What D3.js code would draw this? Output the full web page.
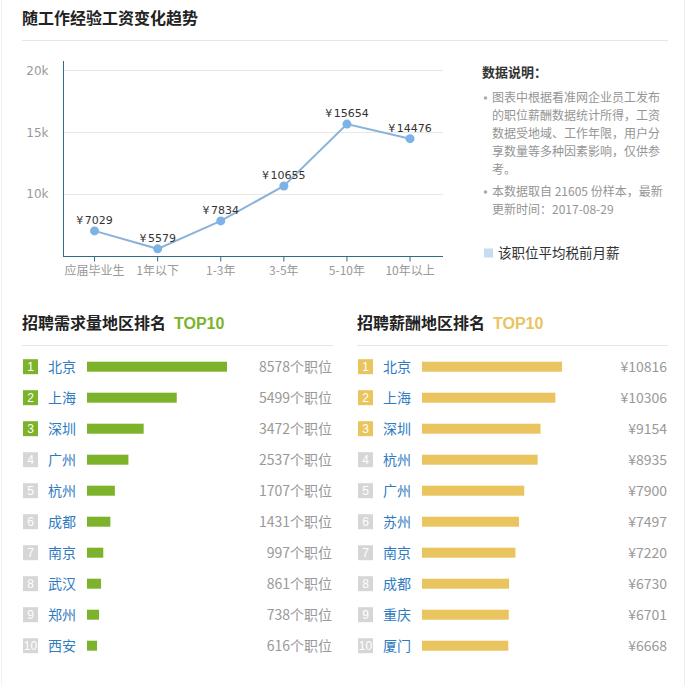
<!DOCTYPE html>
<html>
<head>
<meta charset="utf-8">
<script src="https://cdn.jsdelivr.net/npm/d3@7"></script>
<style>
html,body{margin:0;padding:0;background:#fff;}
svg{display:block;font-family:"Liberation Sans","Noto Sans CJK SC",sans-serif;}
</style>
</head>
<body>
<svg id="chart" width="690" height="685"></svg>
<script>
// ---- data ----
const expCategories = ["应届毕业生","1年以下","1-3年","3-5年","5-10年","10年以上"];
const expSalary = [7029, 5579, 7834, 10655, 15654, 14476];
const yTicks = [10000, 15000, 20000];
const yTickLabels = ["10k","15k","20k"];

const demandCities = ["北京","上海","深圳","广州","杭州","成都","南京","武汉","郑州","西安"];
const demandValues = [8578, 5499, 3472, 2537, 1707, 1431, 997, 861, 738, 616];

const payCities = ["北京","上海","深圳","杭州","广州","苏州","南京","成都","重庆","厦门"];
const payValues = [10816, 10306, 9154, 8935, 7900, 7497, 7220, 6730, 6701, 6668];

const noteTitle = "数据说明：";
const noteLines1 = ["图表中根据看准网企业员工发布","的职位薪酬数据统计所得，工资","数据受地域、工作年限，用户分","享数量等多种因素影响，仅供参","考。"];
const noteLines2 = ["本数据取自 21605 份样本，最新","更新时间：2017-08-29"];
const legendLabel = "该职位平均税前月薪";

const svg = d3.select("#chart");
const CJK = '"Noto Sans CJK SC","Liberation Sans",sans-serif';

// page borders
svg.append("line").attr("x1",1.5).attr("x2",1.5).attr("y1",0).attr("y2",685).attr("stroke","#f0f0f0");
svg.append("line").attr("x1",684.5).attr("x2",684.5).attr("y1",0).attr("y2",685).attr("stroke","#ececec");

// ---- main title ----
svg.append("text").attr("x",22).attr("y",24).attr("font-size",16).attr("font-weight","bold")
  .attr("font-family",CJK).attr("fill","#222").text("随工作经验工资变化趋势");
svg.append("line").attr("x1",22).attr("x2",668).attr("y1",40.5).attr("y2",40.5).attr("stroke","#e6e6e6");

// ---- line chart ----
const x = d3.scaleBand().domain(expCategories).range([63, 441.6]);
const y = d3.scaleLinear().domain([5000, 20750]).range([256, 61]);
const g = svg.append("g");

// grid
g.selectAll(".grid").data(yTicks).join("line")
  .attr("x1",63).attr("x2",443).attr("y1",d=>Math.round(y(d))+0.5).attr("y2",d=>Math.round(y(d))+0.5)
  .attr("stroke","#e8e8e8");

// y axis
const yAxis = g.append("g").attr("transform","translate(63.5,0)")
  .call(d3.axisLeft(y).tickValues(yTicks).tickSize(0).tickPadding(15).tickFormat((d,i)=>yTickLabels[i]));
yAxis.select(".domain").attr("stroke","#2e6d84").attr("d","M0,61V256");
yAxis.selectAll("text").attr("font-family","DejaVu Sans, sans-serif").attr("font-size",12).attr("fill","#999");

// x axis
const xAxis = g.append("g").attr("transform","translate(0,256.5)")
  .call(d3.axisBottom(x).tickSize(5).tickPadding(5));
xAxis.select(".domain").attr("stroke","#2e6d84").attr("d","M63,0H443");
xAxis.selectAll(".tick line").attr("stroke","#2e6d84");
xAxis.selectAll("text").attr("font-family",CJK).attr("font-size",12).attr("fill","#999");

const cx = d => x(d) + x.bandwidth()/2;
const pts = expCategories.map((c,i)=>({c, v: expSalary[i]}));
g.append("path").datum(pts)
  .attr("d", d3.line().x(d=>cx(d.c)).y(d=>y(d.v)))
  .attr("fill","none").attr("stroke","#8ab3da").attr("stroke-width",2);
g.selectAll(".pt").data(pts).join("circle")
  .attr("cx",d=>cx(d.c)).attr("cy",d=>y(d.v)).attr("r",4.5).attr("fill","#7db2e6");
const lbl = g.selectAll(".lbl").data(pts).join("text")
  .attr("x",d=>cx(d.c)).attr("y",d=>y(d.v)-7).attr("text-anchor","middle")
  .attr("font-family","DejaVu Sans, sans-serif").attr("font-size",11).attr("fill","#333");
lbl.append("tspan").text("¥");
lbl.append("tspan").attr("dx",1.5).text(d=>d.v);

// ---- notes ----
svg.append("text").attr("x",482).attr("y",77).attr("font-family",CJK).attr("font-size",13)
  .attr("font-weight","bold").attr("fill","#333").text(noteTitle);
function bullet(lines, y0){
  svg.append("circle").attr("cx",485.5).attr("cy",y0-4).attr("r",1.8).attr("fill","#aaa");
  lines.forEach((t,i)=>{
    svg.append("text").attr("x",492).attr("y",y0+i*18).attr("font-family",CJK)
      .attr("font-size",12).attr("fill","#959595").text(t);
  });
}
bullet(noteLines1, 102);
bullet(noteLines2, 196);
svg.append("rect").attr("x",484).attr("y",248.5).attr("width",9).attr("height",9).attr("fill","#c8dcf0");
svg.append("text").attr("x",498).attr("y",258).attr("font-family",CJK).attr("font-size",13.5)
  .attr("fill","#333").text(legendLabel);

// ---- rankings ----
function ranking(opts){
  const {x0, x1, title, accent, cities, values, fmt} = opts;
  const t = svg.append("text").attr("x",x0).attr("y",329).attr("font-family",CJK)
    .attr("font-size",16).attr("font-weight","bold").attr("fill","#222");
  t.append("tspan").text(title);
  t.append("tspan").attr("dx",8).attr("fill",accent).attr("font-family","Liberation Sans, sans-serif").text("TOP10");
  svg.append("line").attr("x1",x0).attr("x2",x1).attr("y1",345.5).attr("y2",345.5).attr("stroke","#e6e6e6");

  const rowY = d3.scaleLinear().domain([0,9]).range([366.7, 645.7]);
  const barX = d3.scaleLinear().domain([0, d3.max(values)]).range([0, 140]);
  const rows = svg.append("g").selectAll("g").data(cities.map((c,i)=>({c, v: values[i], i})))
    .join("g").attr("transform",d=>`translate(0,${rowY(d.i)})`);
  rows.append("rect").attr("x",x0+1).attr("y",-7.5).attr("width",15).attr("height",15)
    .attr("fill",d=>d.i<3?accent:"#d6d6d6");
  rows.append("text").attr("x",x0+8.5).attr("y",4.5).attr("text-anchor","middle")
    .attr("font-size",12).attr("fill","#fff").text(d=>d.i+1);
  rows.append("text").attr("x",x0+26).attr("y",5).attr("font-family",CJK).attr("font-size",14)
    .attr("fill","#2f7bbf").text(d=>d.c);
  rows.append("rect").attr("x",opts.barStart).attr("y",-5).attr("height",10)
    .attr("width",d=>barX(d.v)).attr("fill",opts.barColor);
  rows.append("text").attr("x",opts.valueX).attr("y",5).attr("text-anchor","end")
    .attr("font-size",14).attr("fill","#999").attr("font-family",CJK).text(d=>fmt(d.v));
}
ranking({x0:22, x1:333, title:"招聘需求量地区排名", accent:"#7cb32a", barColor:"#7cb32a",
  cities:demandCities, values:demandValues, barStart:87, valueX:332, fmt:v=>v+"个职位"});
ranking({x0:357, x1:668, title:"招聘薪酬地区排名", accent:"#e9c45f", barColor:"#e9c45f",
  cities:payCities, values:payValues, barStart:422, valueX:667, fmt:v=>"¥"+v});
</script>
</body>
</html>
